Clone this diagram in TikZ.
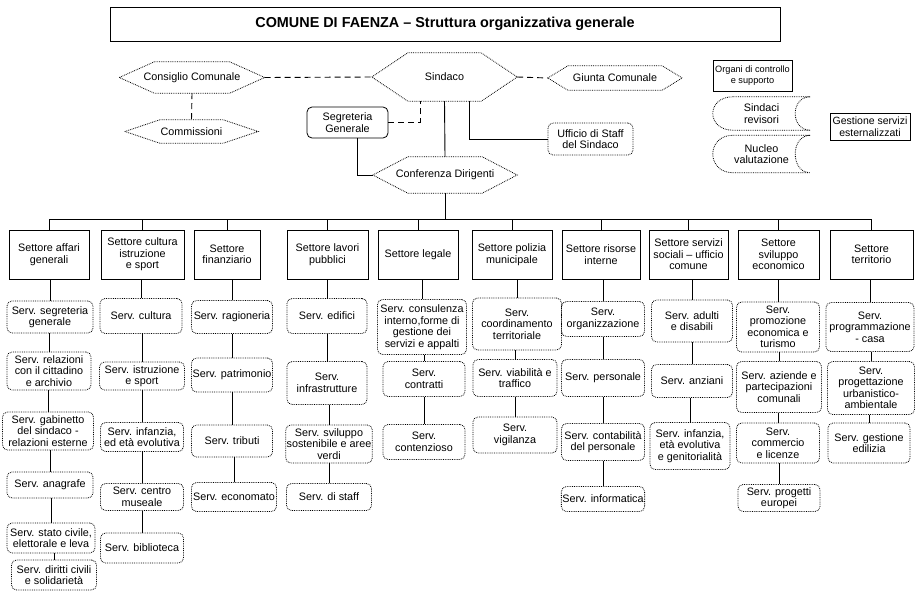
\documentclass[tikz,border=0pt]{standalone}
\usepackage{fontspec}
\setmainfont{Liberation Sans}
\newcommand{\hexa}[2]{\draw[hexline] (#1.west) -- ([xshift=#2]#1.north west) -- ([xshift=-#2]#1.north east) -- (#1.east) -- ([xshift=-#2]#1.south east) -- ([xshift=#2]#1.south west) -- cycle;}
\newcommand{\stored}[1]{\draw[hexline] ([xshift=20pt]#1.north west) -- (#1.north east) .. controls ([xshift=-20pt]#1.north east) and ([xshift=-20pt]#1.south east) .. (#1.south east) -- ([xshift=20pt]#1.south west) .. controls ([xshift=-6.7pt]#1.south west) and ([xshift=-6.7pt]#1.north west) .. cycle;}
\begin{document}
\begin{tikzpicture}[x=1pt,y=-1pt,
  every node/.style={font=\fontsize{10.8}{11.5}\selectfont, align=center, inner sep=1pt},
  wh/.style 2 args={minimum width=#1pt, minimum height=#2pt},
  svc/.style={draw, densely dotted, line width=0.8pt, rounded corners=5pt},
  sect/.style={draw, line width=0.9pt},
  rectbox/.style={draw, line width=0.8pt},
  hexline/.style={densely dotted, line width=0.8pt},
  conn/.style={line width=0.9pt},
  dconn/.style={line width=0.9pt, dash pattern=on 6pt off 4pt},
]
\useasboundingbox (0,0) rectangle (915,597);

% title
\node[draw, line width=1pt, wh={670}{34}, font=\fontsize{14.4}{16}\selectfont\bfseries] (title) at (445,24) {COMUNE DI FAENZA -- Struttura organizzativa generale};

% governing bodies
\node[wh={145}{31}] (cons) at (192,77.5) {Consiglio Comunale};
\node[wh={133}{23}] (comm) at (191.5,131.5) {Commissioni};
\node[wh={145}{48}] (sind) at (444.5,77) {Sindaco};
\node[wh={134}{24}] (giun) at (615,78) {Giunta Comunale};
\node[wh={144}{36}] (conf) at (445,175) {Conferenza Dirigenti};
\hexa{cons}{35pt}
\hexa{comm}{35pt}
\hexa{sind}{36pt}
\hexa{giun}{20pt}
\hexa{conf}{35pt}

\node[svc, solid, wh={81}{31}] (segr) at (347.5,122.5) {Segreteria\\Generale};
\node[svc, wh={85}{32}] (uff) at (590.5,139) {Ufficio di Staff\\del Sindaco};

% control organs
\node[rectbox, wh={79}{31}, font=\fontsize{9.2}{10.5}\selectfont] (org) at (752.5,75.5) {Organi di controllo\\e supporto};
\node[wh={97}{33}] (srev) at (761.5,113.5) {Sindaci\\revisori};
\node[wh={97}{37}] (nucl) at (761.5,154) {Nucleo\\valutazione};
\stored{srev}
\stored{nucl}
\node[rectbox, wh={80}{27}, font=\fontsize{10.5}{11.5}\selectfont] (gest) at (870,126.5) {Gestione servizi\\esternalizzati};

% sectors
\node[sect, wh={80}{49}] (s1) at (49,254.5) {Settore affari\\generali};
\node[sect, wh={83}{49}] (s2) at (142.5,254.5) {Settore cultura\\istruzione\\e sport};
\node[sect, wh={66}{49}] (s3) at (227,254.5) {Settore\\finanziario};
\node[sect, wh={81}{49}] (s4) at (327.5,254.5) {Settore lavori\\pubblici};
\node[sect, wh={80}{49}] (s5) at (418,254.5) {Settore legale};
\node[sect, wh={80}{49}] (s6) at (512,254.5) {Settore polizia\\municipale};
\node[sect, wh={78}{49}] (s7) at (601,254.5) {Settore risorse\\interne};
\node[sect, wh={79}{49}] (s8) at (688.5,254.5) {Settore servizi\\sociali -- ufficio\\comune};
\node[sect, wh={81}{49}] (s9) at (778.5,254.5) {Settore\\sviluppo\\economico};
\node[sect, wh={83}{49}] (s10) at (871.5,254.5) {Settore\\territorio};

% column 1
\node[svc, wh={86}{32}] (c1a) at (50,317) {Serv. segreteria\\generale};
\node[svc, wh={84}{38}] (c1b) at (49,371) {Serv. relazioni\\con il cittadino\\e archivio};
\node[svc, wh={91}{38}] (c1c) at (48,431) {Serv. gabinetto\\del sindaco -\\relazioni esterne};
\node[svc, wh={86}{26}] (c1d) at (50,485) {Serv. anagrafe};
\node[svc, wh={88}{30}] (c1e) at (51,538) {Serv. stato civile,\\elettorale e leva};
\node[svc, wh={85}{30}] (c1f) at (54,575) {Serv. diritti civili\\e solidarietà};
% column 2
\node[svc, wh={82}{35}] (c2a) at (141,316) {Serv. cultura};
\node[svc, wh={85}{28}] (c2b) at (142,376) {Serv. istruzione\\e sport};
\node[svc, wh={83}{29}] (c2c) at (142,437) {Serv. infanzia,\\ed età evolutiva};
\node[svc, wh={83}{27}] (c2d) at (142,497) {Serv. centro\\museale};
\node[svc, wh={83}{30}] (c2e) at (142,548) {Serv. biblioteca};
% column 3
\node[svc, wh={81}{33}] (c3a) at (232,317) {Serv. ragioneria};
\node[svc, wh={81}{34}] (c3b) at (232,375) {Serv. patrimonio};
\node[svc, wh={81}{32}] (c3c) at (232,441) {Serv. tributi};
\node[svc, wh={85}{29}] (c3d) at (234,497) {Serv. economato};
% column 4
\node[svc, wh={80}{35}] (c4a) at (327,316) {Serv. edifici};
\node[svc, wh={80}{43}] (c4b) at (327,383) {Serv.\\infrastrutture};
\node[svc, wh={86}{38}] (c4c) at (329,444) {Serv. sviluppo\\sostenibile e aree\\verdi};
\node[svc, wh={85}{27}] (c4d) at (329,497) {Serv. di staff};
% column 5
\node[svc, wh={89}{55}] (c5a) at (422,327) {Serv. consulenza\\interno,forme di\\gestione dei\\servizi e appalti};
\node[svc, wh={82}{35}] (c5b) at (424,379) {Serv.\\contratti};
\node[svc, wh={82}{35}] (c5c) at (424,442) {Serv.\\contenzioso};
% column 6
\node[svc, wh={89}{52}] (c6a) at (517,324) {Serv.\\coordinamento\\territoriale};
\node[svc, wh={84}{37}] (c6b) at (515,378) {Serv. viabilità e\\traffico};
\node[svc, wh={84}{36}] (c6c) at (515,435) {Serv.\\vigilanza};
% column 7
\node[svc, wh={83}{35}] (c7a) at (603,319) {Serv.\\organizzazione};
\node[svc, wh={83}{37}] (c7b) at (603,378) {Serv. personale};
\node[svc, wh={83}{37}] (c7c) at (603,442) {Serv. contabilità\\del personale};
\node[svc, wh={83}{25}] (c7d) at (603,499) {Serv. informatica};
% column 8
\node[svc, wh={81}{42}] (c8a) at (692,321) {Serv. adulti\\e disabili};
\node[svc, wh={81}{33}] (c8b) at (692,381) {Serv. anziani};
\node[svc, wh={80}{47}] (c8c) at (690,446) {Serv. infanzia,\\età evolutiva\\e genitorialità};
% column 9
\node[svc, wh={83}{50}] (c9a) at (778,327) {Serv.\\promozione\\economica e\\turismo};
\node[svc, wh={85}{51}] (c9b) at (779,387) {Serv. aziende e\\partecipazioni\\comunali};
\node[svc, wh={83}{40}] (c9c) at (778,443) {Serv.\\commercio\\e licenze};
\node[svc, wh={82}{27}] (c9d) at (779,498) {Serv. progetti\\europei};
% column 10
\node[svc, wh={88}{49}] (c10a) at (870,327) {Serv.\\programmazione\\- casa};
\node[svc, wh={87}{53}] (c10b) at (871,388) {Serv.\\progettazione\\urbanistico-\\ambientale};
\node[svc, wh={82}{40}] (c10c) at (869,443) {Serv. gestione\\edilizia};

% connectors at the top
\draw[dconn] (cons.east) -- (sind.west);
\draw[dconn] (cons.south) -- (comm.north);
\draw[dconn] (sind.east) -- (giun.west);
\draw[dconn] (segr.east) -| ([xshift=-24.5pt]sind.south);
\draw[conn] (sind.south) -- (conf.north);
\draw[conn] ([xshift=24.5pt]sind.south) |- (uff.west);
\draw[conn] ([xshift=10pt]segr.south) |- (conf.west);

% bus
\coordinate (bus) at (0,219);
\draw[conn] (conf.south) -- (conf.south |- bus);
\draw[conn] (s1.north |- bus) -- (s10.north |- bus);
\foreach \s in {s1,s2,s3,s4,s5,s6,s7,s8,s9,s10}
  \draw[conn] (\s.north) -- (\s.north |- bus);

% service chains
\foreach \u/\v in {s1/c1a,c1a/c1b,c1b/c1c,c1c/c1d,c1d/c1e,c1e/c1f,
  s2/c2a,c2a/c2b,c2b/c2c,c2c/c2d,c2d/c2e,
  s3/c3a,c3a/c3b,c3b/c3c,c3c/c3d,
  s4/c4a,c4a/c4b,c4b/c4c,c4c/c4d,
  s5/c5a,c5a/c5b,c5b/c5c,
  s6/c6a,c6a/c6b,c6b/c6c,
  s7/c7a,c7a/c7b,c7b/c7c,c7c/c7d,
  s8/c8a,c8a/c8b,c8b/c8c,
  s9/c9a,c9a/c9b,c9b/c9c,c9c/c9d,
  s10/c10a,c10a/c10b,c10b/c10c}
  \draw[conn] (\u.south -| \v.north) -- (\v.north);
\end{tikzpicture}
\end{document}
